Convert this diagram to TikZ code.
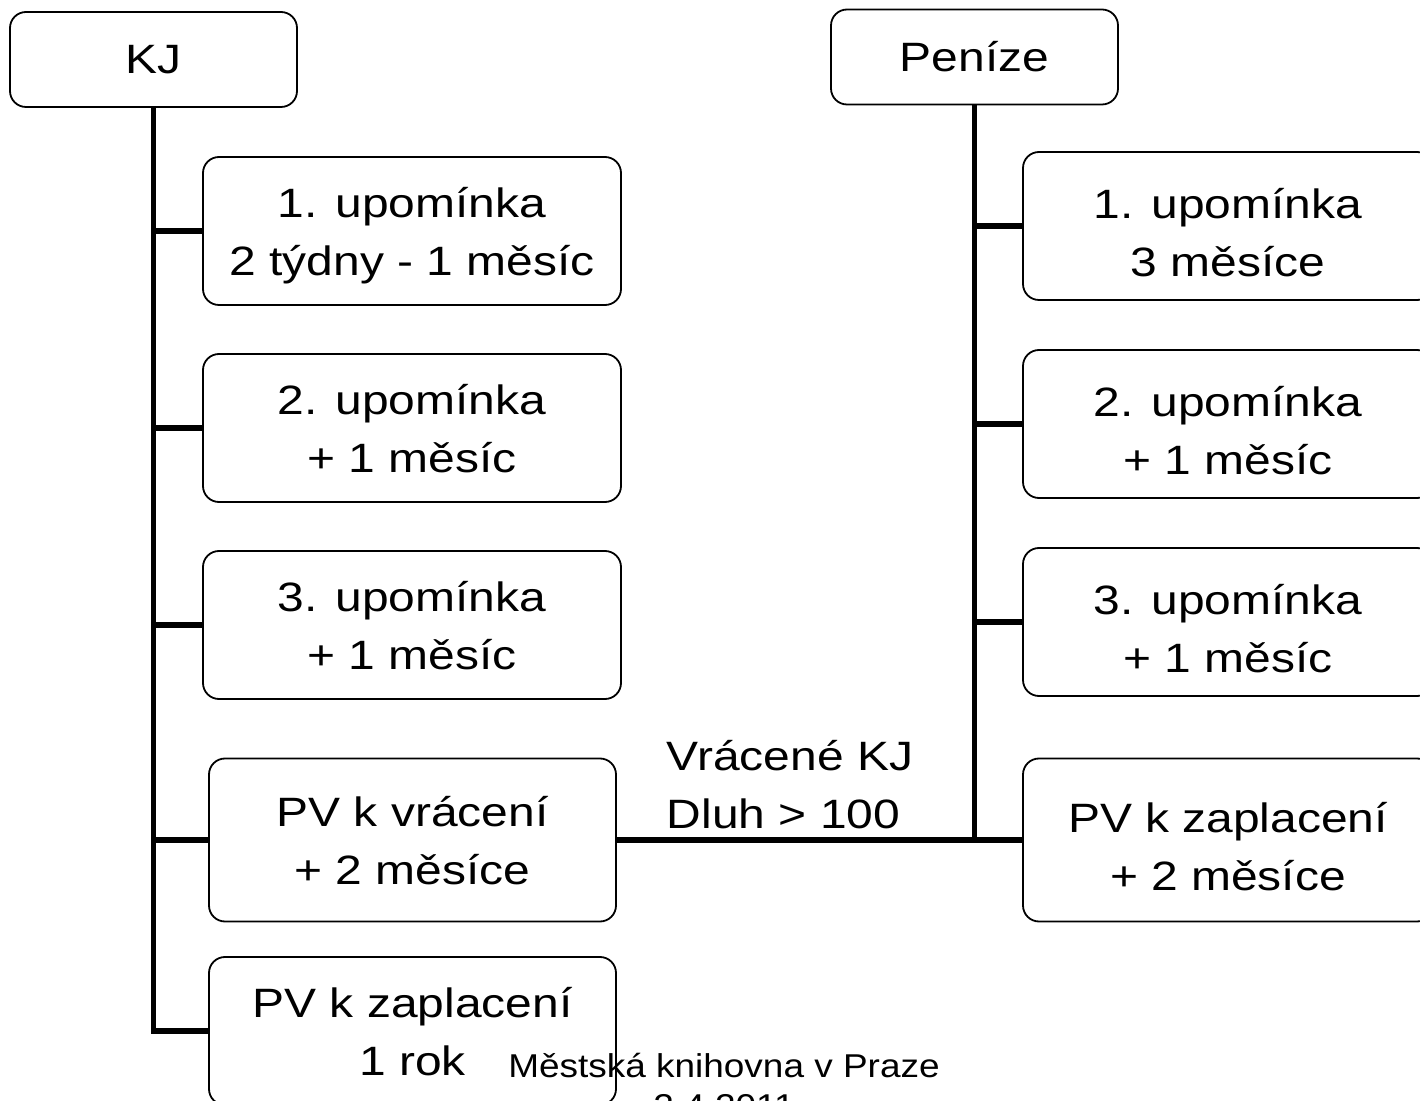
\documentclass[tikz,border=0pt]{standalone}
\usepackage{fontspec}
\setmainfont[FakeStretch=1.17]{Liberation Sans}
\newfontfamily\footfnt[FakeStretch=1.12]{Liberation Sans}
\usetikzlibrary{positioning, calc}

\begin{document}
\begin{tikzpicture}[x=0.5pt, y=-0.5pt,
	box/.style={draw, rounded corners=8pt, line width=0.9pt, inner sep=0pt, align=center, font=\fontsize{20.5}{29}\selectfont},
	twoline/.style={box, text depth=-2pt},
	rtwoline/.style={box, text height=50.5pt, text depth=0pt},
	trunk/.style={line width=2.6pt}]
			\useasboundingbox (0,0) rectangle (1420,1101);
			% roots
			\node (kj) [box, minimum width=143.5pt, minimum height=47.5pt] at (153.5,59.5) {KJ};
			\node (pen) [box, minimum width=143.5pt, minimum height=47.5pt] at (974.5,57) {Peníze};
			% left column
			\node (l1) [twoline, minimum width=209pt, minimum height=74pt] at (412,231) {1. upomínka\\2 týdny - 1 měsíc};
			\node (l2) [twoline, minimum width=209pt, minimum height=74pt] at (412,428) {2. upomínka\\+ 1 měsíc};
			\node (l3) [twoline, minimum width=209pt, minimum height=74pt] at (412,625) {3. upomínka\\+ 1 měsíc};
			\node (l4) [twoline, minimum width=203.5pt, minimum height=81.5pt] at (412.5,840) {PV k vrácení\\+ 2 měsíce};
			\node (l5) [twoline, minimum width=203.5pt, minimum height=74pt] at (412.5,1031) {PV k zaplacení\\1 rok};
			% right column
			\node (r1) [rtwoline, minimum width=205pt, minimum height=74pt] at (1228,226) {1. upomínka\\3 měsíce};
			\node (r2) [rtwoline, minimum width=205pt, minimum height=74pt] at (1228,424) {2. upomínka\\+ 1 měsíc};
			\node (r3) [rtwoline, minimum width=205pt, minimum height=74pt] at (1228,622) {3. upomínka\\+ 1 měsíc};
			\node (r4) [rtwoline, minimum width=205pt, minimum height=81.5pt] at (1228,840) {PV k zaplacení\\+ 2 měsíce};

			\draw [trunk] (kj.south) |- (l5.west);
			\foreach \n in {l1, l2, l3, l4}
				\draw [trunk] (kj.south |- \n.west) -- (\n.west);
			\draw [trunk] (pen.south) |- (r4.west);
			\foreach \n in {r1, r2, r3}
				\draw [trunk] (pen.south |- \n.west) -- (\n.west);
			\draw [trunk] (l4.east) -- (r4.west);
			\node (lbl) [align=left, inner sep=0pt, font=\fontsize{20.5}{29}\selectfont] at (790,785) {Vrácené KJ\\Dluh > 100};

			\node (foot) [align=center, inner sep=0pt, font=\footfnt\fontsize{16.5}{20}\selectfont] at (724,1086) {Městská knihovna v Praze\\2.4.2011};
		\end{tikzpicture}
\end{document}
